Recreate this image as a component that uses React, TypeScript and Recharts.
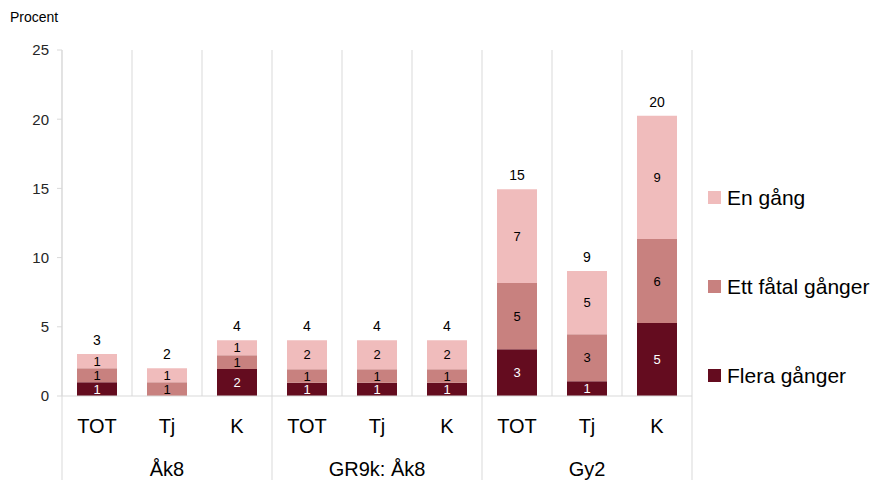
import React from 'react';
import { BarChart, Bar, XAxis, YAxis, CartesianGrid, Legend, LabelList } from 'recharts';

const categories = ['TOT', 'Tj', 'K', 'TOT', 'Tj', 'K', 'TOT', 'Tj', 'K'];
const groups = ['Åk8', 'GR9k: Åk8', 'Gy2'];
const flera = [1.0, 0, 1.95, 0.96, 0.96, 0.96, 3.37, 1.06, 5.27];
const fatal = [1.0, 1.0, 1.0, 0.97, 0.97, 0.97, 4.79, 3.4, 6.07];
const enGang = [1.03, 1.0, 1.08, 2.1, 2.1, 2.1, 6.77, 4.57, 8.91];
const yTicks = [0, 5, 10, 15, 20, 25];

const SERIES = [
  { key: 'flera', name: 'Flera gånger', color: '#640C1F', text: '#ffffff' },
  { key: 'fatal', name: 'Ett fåtal gånger', color: '#C8817F', text: '#000000' },
  { key: 'enGang', name: 'En gång', color: '#F0BCBC', text: '#000000' },
];

const FONT = '"Liberation Sans", Arial, sans-serif';
const W = 874;
const H = 480;
const MARGIN = { top: 50, right: 182, bottom: 0, left: 0 };
const Y_W = 62;
const AXIS1_H = 46;
const AXIS2_H = 38;
const PLOT_LEFT = MARGIN.left + Y_W;
const PLOT_BOTTOM = H - MARGIN.bottom - AXIS1_H - AXIS2_H;
const STEP = (W - MARGIN.right - PLOT_LEFT) / categories.length;
const GRID = '#d9d9d9';

const data = categories.map((name, i) => ({
  name,
  flera: flera[i],
  fatal: fatal[i],
  enGang: enGang[i],
  total: flera[i] + fatal[i] + enGang[i],
}));

const gridX = categories.map((_, i) => PLOT_LEFT + i * STEP).concat(PLOT_LEFT + categories.length * STEP);

function CatTick({ x, y, payload }: any) {
  return (
    <text x={x} y={y} dy={29} textAnchor="middle" fontSize={20} fill="#000" fontFamily={FONT}>
      {payload.value}
    </text>
  );
}

function GroupTick({ x, y, index }: any) {
  const g = Math.floor(index / 3);
  return (
    <g>
      {index % 3 === 0 && (
        <line x1={x - STEP / 2} x2={x - STEP / 2} y1={PLOT_BOTTOM} y2={H} stroke={GRID} />
      )}
      {index === categories.length - 1 && (
        <line x1={x + STEP / 2} x2={x + STEP / 2} y1={PLOT_BOTTOM} y2={H} stroke={GRID} />
      )}
      {index % 3 === 1 && (
        <text x={x} y={y} dy={26} textAnchor="middle" fontSize={20} fill="#000" fontFamily={FONT}>
          {groups[g]}
        </text>
      )}
    </g>
  );
}

// small segments are ~14px tall, so labels use a compact size
const segLabel = (color: string) => (props: any) => {
  const { x, y, width, height, value } = props;
  if (value < 0.5) return null;
  return (
    <text x={x + width / 2} y={y + height / 2} dy={4.5} textAnchor="middle" fontSize={13} fill={color} fontFamily={FONT}>
      {Math.round(value)}
    </text>
  );
};

function TotalLabel(props: any) {
  const { x, y, width, value } = props;
  return (
    <text x={x + width / 2} y={y} dy={-9} textAnchor="middle" fontSize={14} fill="#000" fontFamily={FONT}>
      {Math.round(value)}
    </text>
  );
}

function LegendBox() {
  return (
    <div style={{ fontFamily: FONT }}>
      {[...SERIES].reverse().map(s => (
        <div key={s.key} style={{ height: 89, display: 'flex', alignItems: 'center' }}>
          <span style={{ width: 13, height: 13, background: s.color, display: 'inline-block', marginRight: 6 }} />
          <span style={{ fontSize: 21, color: '#000' }}>{s.name}</span>
        </div>
      ))}
    </div>
  );
}

export default function App() {
  return (
    <div style={{ position: 'absolute', left: 0, top: 0, width: W, height: H, background: '#fff', fontFamily: FONT }}>
      <div style={{ position: 'absolute', left: 10, top: 9, fontSize: 14, color: '#000' }}>Procent</div>
      <BarChart width={W} height={H} data={data} margin={MARGIN}>
        <CartesianGrid horizontal={false} vertical verticalPoints={gridX} stroke={GRID} />
        <XAxis
          dataKey="name"
          height={AXIS1_H}
          interval={0}
          tickLine={false}
          axisLine={{ stroke: GRID }}
          tick={<CatTick />}
        />
        <XAxis
          dataKey="name"
          xAxisId="group"
          height={AXIS2_H}
          interval={0}
          tickLine={false}
          axisLine={false}
          tick={<GroupTick />}
        />
        <YAxis
          width={Y_W}
          domain={[0, 25]}
          ticks={yTicks}
          interval={0}
          tickSize={5}
          tickMargin={8}
          tickLine={{ stroke: GRID }}
          axisLine={{ stroke: GRID }}
          tick={{ fontSize: 15, fill: '#262626', fontFamily: FONT }}
        />
        <Legend
          layout="vertical"
          align="center"
          verticalAlign="middle"
          wrapperStyle={{ left: 708, top: 153, width: 166 }}
          content={<LegendBox />}
        />
        {SERIES.map((s, i) => (
          <Bar key={s.key} dataKey={s.key} name={s.name} stackId="a" fill={s.color} barSize={40} isAnimationActive={false}>
            <LabelList dataKey={s.key} content={segLabel(s.text)} />
            {i === SERIES.length - 1 && <LabelList dataKey="total" content={TotalLabel} />}
          </Bar>
        ))}
      </BarChart>
    </div>
  );
}
